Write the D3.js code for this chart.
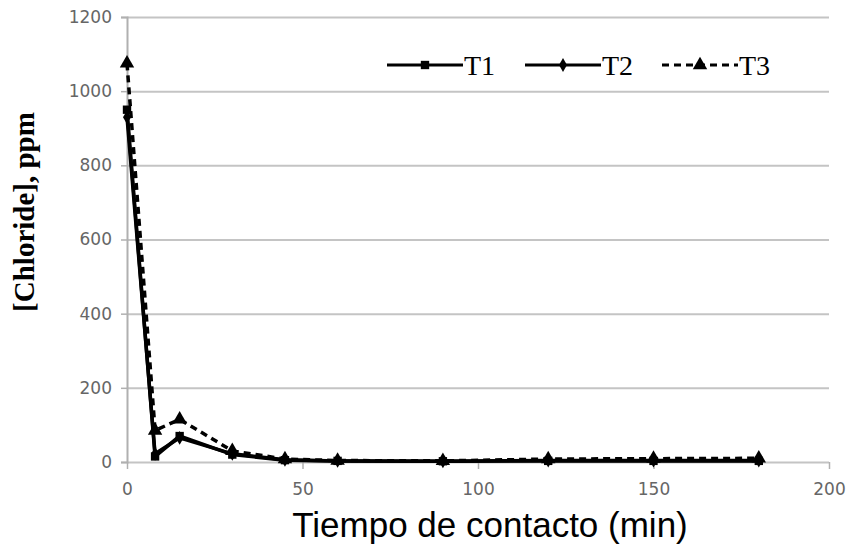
<!DOCTYPE html>
<html>
<head>
<meta charset="utf-8">
<script src="https://cdnjs.cloudflare.com/ajax/libs/d3/7.8.5/d3.min.js"></script>
<style>
body { margin: 0; background: #fff; }
</style>
</head>
<body>
<div id="chart"></div>
<script>
var width = 852;
var height = 547;

// data
var times = [0, 8, 15, 30, 45, 60, 90, 120, 150, 180];
var t1Values = [950, 15, 70, 20, 5, 3, 2, 3, 3, 3];
var t2Values = [930, 22, 65, 22, 6, 3, 2, 4, 4, 4];
var t3Values = [1075, 85, 115, 30, 8, 4, 3, 8, 9, 10];
var seriesNames = ['T1', 'T2', 'T3'];
var xTicks = [0, 50, 100, 150, 200];
var yTicks = [0, 200, 400, 600, 800, 1000, 1200];

var svg = d3.select('#chart')
	.append('svg')
	.attr('width', width)
	.attr('height', height);

var x = d3.scaleLinear().domain([0, 200]).range([127, 829]);
var y = d3.scaleLinear().domain([0, 1200]).range([462, 17]);

// grid lines
svg.append('g')
	.attr('transform', 'translate(' + x(0) + ',0)')
	.call(d3.axisLeft(y).tickValues(yTicks).tickSize(-(x(200) - x(0))).tickFormat(''))
	.call(function(g){
		g.select('.domain').remove();
		g.selectAll('line').attr('stroke', '#c4c4c4').attr('stroke-width', 2);
	});

// y axis
svg.append('g')
	.attr('transform', 'translate(' + x(0) + ',0)')
	.call(d3.axisLeft(y).tickValues(yTicks).tickFormat(d3.format('d')).tickSize(6).tickPadding(9))
	.call(function(g){
		g.select('.domain').attr('stroke', '#b0b0b0').attr('stroke-width', 2);
		g.selectAll('line').attr('stroke', '#b0b0b0').attr('stroke-width', 1.5);
		g.selectAll('text')
			.attr('fill', '#666')
			.style('font-family', 'DejaVu Sans')
			.style('font-size', '17px');
	});

// x axis
svg.append('g')
	.attr('transform', 'translate(0,' + y(0) + ')')
	.call(d3.axisBottom(x).tickValues(xTicks).tickFormat(d3.format('d')).tickSize(7).tickPadding(14))
	.call(function(g){
		g.select('.domain').remove();
		g.selectAll('line').attr('stroke', '#b0b0b0').attr('stroke-width', 1.5);
		g.selectAll('text')
			.attr('fill', '#666')
			.style('font-family', 'DejaVu Sans')
			.style('font-size', '17px');
	});

// axis titles
svg.append('text')
	.attr('transform', 'translate(34,212) rotate(-90)')
	.attr('text-anchor', 'middle')
	.style('font-family', 'Liberation Serif')
	.style('font-weight', 'bold')
	.style('font-size', '29px')
	.text('[Chloride], ppm');

svg.append('text')
	.attr('x', 490)
	.attr('y', 537)
	.attr('text-anchor', 'middle')
	.style('font-family', 'Liberation Sans')
	.style('font-size', '35px')
	.text('Tiempo de contacto (min)');

var series = [
	{name: 'T1', values: t1Values, dash: null, marker: 'circle'},
	{name: 'T2', values: t2Values, dash: null, marker: 'diamond'},
	{name: 'T3', values: t3Values, dash: '7,5', marker: 'triangle'}
];

var symbolOf = {
	circle: d3.symbol().type(d3.symbolSquare).size(70),
	diamond: d3.symbol().type(d3.symbolDiamond).size(55),
	triangle: d3.symbol().type(d3.symbolTriangle).size(90)
};

var line = d3.line()
	.x(function(d){ return x(d.t); })
	.y(function(d){ return y(d.v); });

series.forEach(function(s){
	var pts = times.map(function(t, i){ return {t: t, v: s.values[i]}; });
	svg.append('path')
		.datum(pts)
		.attr('fill', 'none')
		.attr('stroke', '#000')
		.attr('stroke-width', 3.5)
		.attr('stroke-dasharray', s.dash)
		.attr('d', line);

	svg.selectAll(null)
		.data(pts)
		.enter()
		.append('path')
		.attr('transform', function(d){ return 'translate(' + x(d.t) + ',' + y(d.v) + ')'; })
		.attr('d', symbolOf[s.marker])
		.attr('fill', '#000');
});

// legend
var legendX = [387, 525, 662];
series.forEach(function(s, i){
	var lx = legendX[i];
	svg.append('line')
		.attr('x1', lx)
		.attr('x2', lx + 76)
		.attr('y1', 65)
		.attr('y2', 65)
		.attr('stroke', '#000')
		.attr('stroke-width', 3)
		.attr('stroke-dasharray', s.dash);
	svg.append('path')
		.attr('transform', 'translate(' + (lx + 38) + ',65)')
		.attr('d', symbolOf[s.marker])
		.attr('fill', '#000');
	svg.append('text')
		.attr('x', lx + 77)
		.attr('y', 75)
		.style('font-family', 'Liberation Serif')
		.style('font-size', '28px')
		.text(seriesNames[i]);
});
</script>
</body>
</html>
